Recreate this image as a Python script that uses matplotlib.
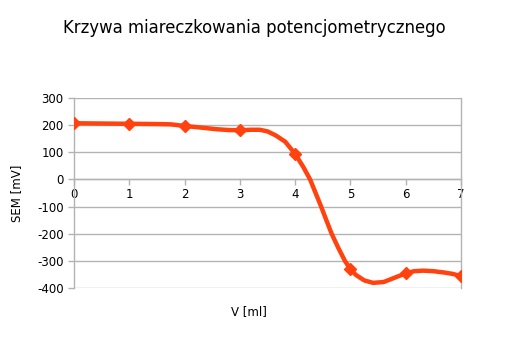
import numpy as np
import matplotlib
matplotlib.use("Agg")
import matplotlib.pyplot as plt

plt.rcParams['axes.unicode_minus'] = False
plt.rcParams['font.family'] = ['DejaVu Sans']

# measured points (marked with diamonds)
v_meas = [0, 1, 2, 3, 4, 5, 6, 7]
sem_meas = [207, 205, 197, 181, 94, -331, -346, -356]

# smoothed curve
v_curve = [0, 0.5, 1, 1.5, 1.75, 2, 2.3, 2.58, 2.8, 3, 3.2, 3.36, 3.5, 3.65, 3.82,
           4, 4.15, 4.27, 4.35, 4.47, 4.56, 4.66, 4.78, 4.9, 5, 5.1, 5.25, 5.41, 5.6, 5.8,
           6, 6.15, 6.32, 6.5, 6.7, 6.85, 7]
sem_curve = [207, 206, 205, 204, 203, 197, 191, 185, 182, 181, 183, 183, 177, 162, 139,
             94, 45, 0, -40, -100, -148, -200, -252, -300, -331, -352, -372, -381, -378, -362,
             -346, -338, -336, -338, -343, -348, -356]

fig = plt.figure(figsize=(5.08, 3.39), dpi=100)
ax = fig.add_axes([0.1457, 0.1504, 0.7618, 0.5605])

col = '#ff420e'
ax.plot(v_curve, sem_curve, color=col, lw=3.2, solid_capstyle='round',
        solid_joinstyle='round', zorder=3)
ax.plot(v_meas, sem_meas, ls='none', marker='D', ms=6.5, color=col, zorder=4)

ax.set_xlim(0, 7)
ax.set_ylim(-400, 300)
ax.set_yticks(np.arange(-400, 301, 100))
ax.set_xticks(range(0, 8))

ax.yaxis.grid(True, color='#b3b3b3', lw=1)
ax.set_axisbelow(True)
ax.spines['top'].set_visible(False)
ax.spines['bottom'].set_position(('data', 0))
for s in ['left', 'right', 'bottom']:
    ax.spines[s].set_color('#b3b3b3')
    ax.spines[s].set_linewidth(1)

ax.tick_params(axis='both', colors='#b3b3b3', labelcolor='black', labelsize=8.5,
               length=4, width=1)
ax.tick_params(axis='x', pad=2)

fig.text(17 / 508, 1 - 193 / 339, 'SEM [mV]', fontsize=8.5, rotation=90,
         ha='center', va='center')
fig.text(249 / 508, 1 - 312 / 339, 'V [ml]', fontsize=8.5, ha='center', va='center')
fig.text(254 / 508, 1 - 28 / 339, 'Krzywa miareczkowania potencjometrycznego',
         fontsize=11.9, ha='center', va='center')

fig.savefig('out.png', dpi=100)
